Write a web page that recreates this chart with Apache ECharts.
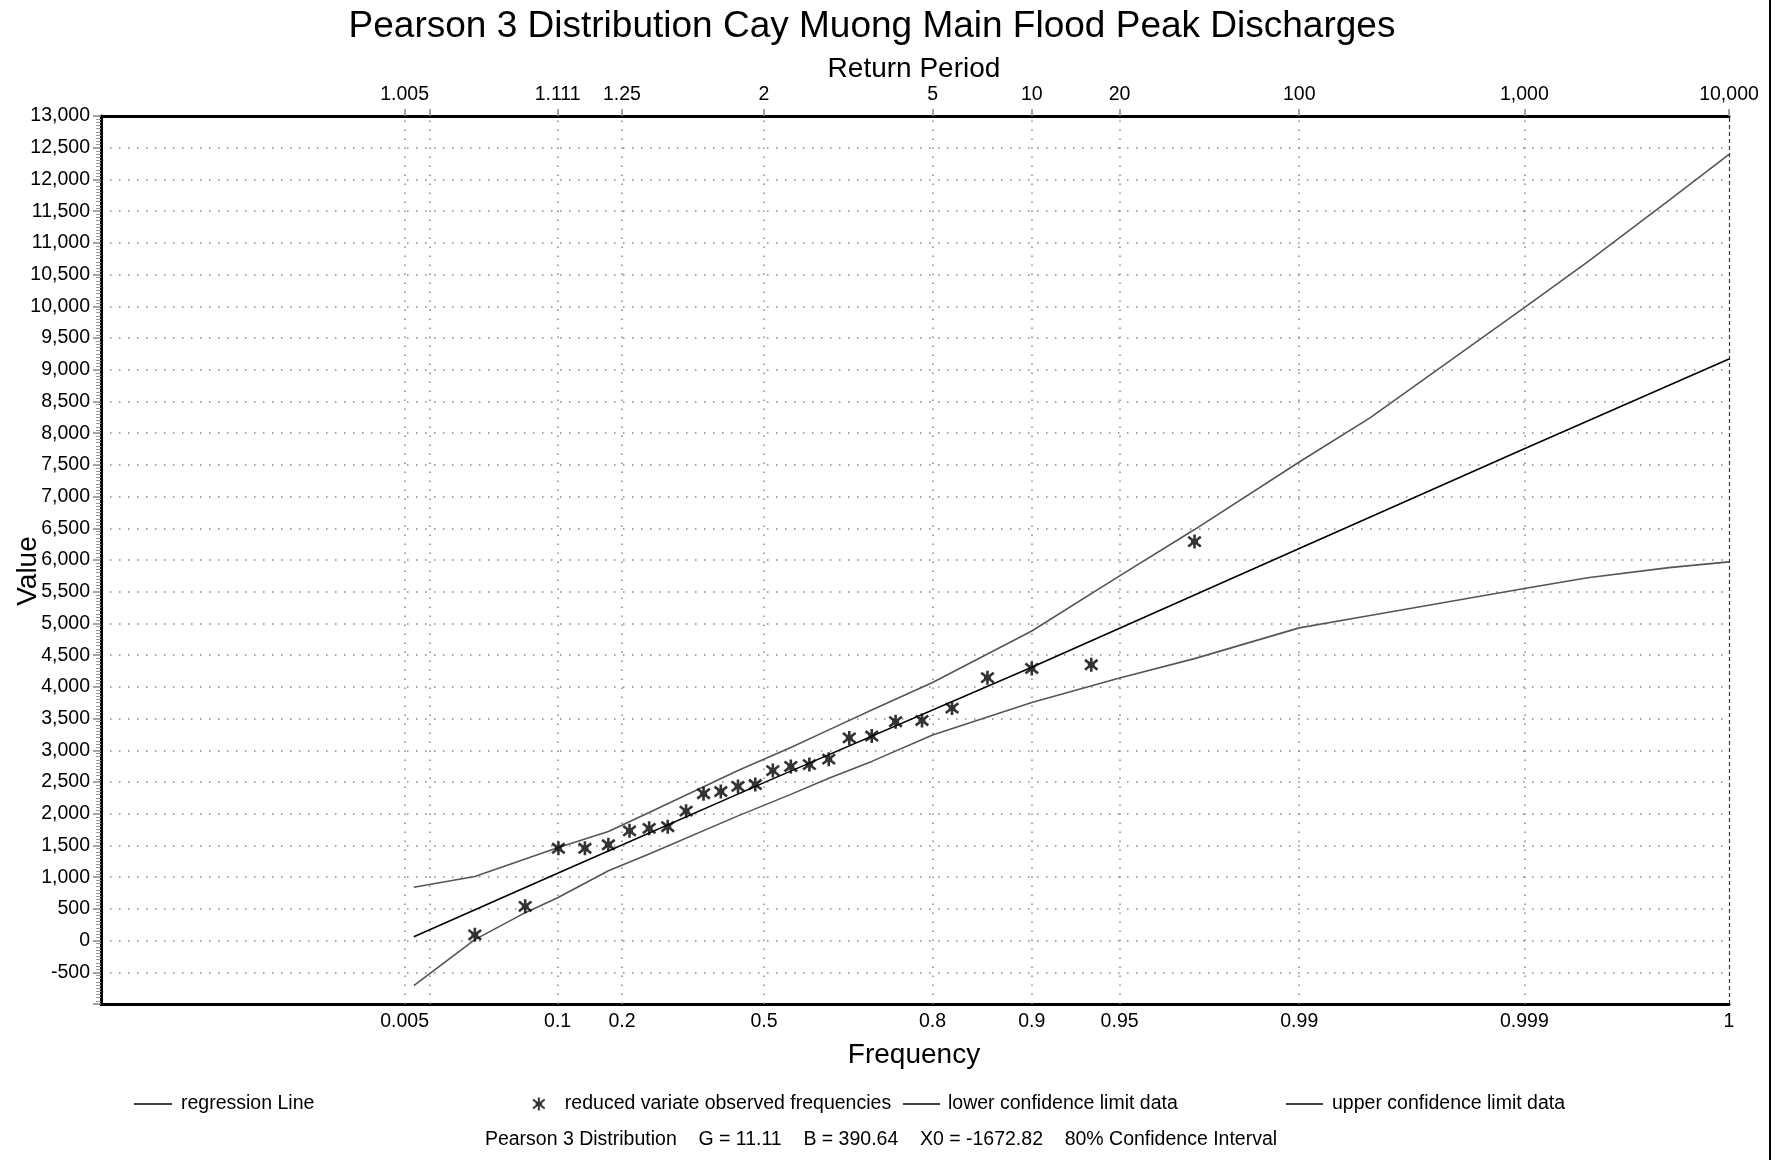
<!DOCTYPE html>
<html>
<head>
<meta charset="utf-8">
<script src="https://cdn.jsdelivr.net/npm/echarts@6.0.0/dist/echarts.min.js"></script>
<style>
html,body{margin:0;padding:0;background:#fff;}
#c{width:1776px;height:1160px;}
</style>
</head>
<body>
<div id="c"></div>
<script>
// ---- Fitted Pearson 3 parameters (shown in the footer) ----
const G = 11.11, B = 390.64, X0 = -1672.82;

// ---- Axis ticks ----
const tickFreq     = [0.005, 0.01, 0.1, 0.2, 0.5, 0.8, 0.9, 0.95, 0.99, 0.999, 0.9999];
const freqLabels   = ['0.005', '', '0.1', '0.2', '0.5', '0.8', '0.9', '0.95', '0.99', '0.999', '1'];
const returnLabels = ['1.005', '', '1.111', '1.25', '2', '5', '10', '20', '100', '1,000', '10,000'];
const yTickMin = -1000, yTickMax = 13000, yTickStep = 500;

// ---- Observed flood peaks (plotting frequency, value) ----
const obsFreq  = [0.027, 0.064, 0.101, 0.138, 0.176, 0.214, 0.252, 0.290, 0.329, 0.367, 0.405, 0.443, 0.481,
                  0.519, 0.557, 0.595, 0.633, 0.671, 0.710, 0.748, 0.786, 0.824, 0.862, 0.900, 0.937, 0.9737];
const obsValue = [90, 540, 1455, 1455, 1510, 1730, 1770, 1795, 2040, 2315, 2350, 2430, 2460,
                  2680, 2745, 2775, 2860, 3195, 3225, 3450, 3470, 3665, 4145, 4290, 4348, 6290];

// ---- Regression line ----
const regFreq  = [0.0065, 0.1, 0.5, 0.9, 0.99, 0.999, 0.9999];
const regValue = [60, 1060, 2490, 4310, 6180, 7755, 9170];

// ---- Lower confidence limit ----
const lowFreq  = [0.0065, 0.027, 0.064, 0.1, 0.176, 0.252, 0.443, 0.557, 0.633, 0.71, 0.8, 0.9, 0.95, 0.9737, 0.99, 0.995, 0.999, 0.9995, 0.9998, 0.9999];
const lowValue = [-710, 15, 440, 675, 1100, 1365, 1966, 2305, 2560, 2825, 3240, 3755, 4140, 4445, 4930, 5125, 5550, 5720, 5880, 5970];

// ---- Upper confidence limit ----
const upFreq  = [0.0065, 0.027, 0.1, 0.176, 0.252, 0.443, 0.557, 0.633, 0.71, 0.8, 0.9, 0.95, 0.9737, 0.99, 0.995, 0.999, 0.9995, 0.9998, 0.9999];
const upValue = [840, 1010, 1462, 1720, 2020, 2680, 3043, 3322, 3635, 4070, 4880, 5750, 6480, 7545, 8240, 9980, 10700, 11670, 12395];

const FONT = '"Liberation Sans", Arial, Helvetica, sans-serif';
const TITLE = 'Pearson 3 Distribution Cay Muong Main Flood Peak Discharges';
const FOOTER = 'Pearson 3 Distribution    G = 11.11    B = 390.64    X0 = -1672.82    80% Confidence Interval';

// ---- Probability-paper scale: fitted Pearson 3 quantile ----
function lnGamma(z) {
  const c = [0.99999999999980993, 676.5203681218851, -1259.1392167224028, 771.32342877765313,
    -176.61502916214059, 12.507343278686905, -0.13857109526572012, 9.9843695780195716e-6, 1.5056327351493116e-7];
  if (z < 0.5) return Math.log(Math.PI / Math.sin(Math.PI * z)) - lnGamma(1 - z);
  z -= 1;
  let x = c[0];
  for (let i = 1; i < 9; i++) x += c[i] / (z + i);
  const t = z + 7.5;
  return 0.5 * Math.log(2 * Math.PI) + (z + 0.5) * Math.log(t) - t + Math.log(x);
}
function gammaP(a, x) {
  if (x <= 0) return 0;
  const lead = Math.exp(-x + a * Math.log(x) - lnGamma(a));
  if (x < a + 1) {
    let sum = 1 / a, term = 1 / a;
    for (let n = 1; n < 1000; n++) { term *= x / (a + n); sum += term; if (Math.abs(term) < Math.abs(sum) * 1e-15) break; }
    return sum * lead;
  }
  let b = x + 1 - a, c = 1e300, d = 1 / b, h = d;
  for (let i = 1; i < 1000; i++) {
    const an = -i * (i - a); b += 2;
    d = an * d + b; if (Math.abs(d) < 1e-300) d = 1e-300;
    c = b + an / c; if (Math.abs(c) < 1e-300) c = 1e-300;
    d = 1 / d; const del = d * c; h *= del;
    if (Math.abs(del - 1) < 1e-15) break;
  }
  return 1 - lead * h;
}
function gammaInv(p, a) {
  let lo = 0, hi = a + 60 * Math.sqrt(a) + 60;
  for (let i = 0; i < 200; i++) { const m = (lo + hi) / 2; if (gammaP(a, m) < p) lo = m; else hi = m; }
  return (lo + hi) / 2;
}
function pos(F) { return X0 + B * gammaInv(F, G); }

const tickPos = tickFreq.map(pos);
const xMax = tickPos[tickPos.length - 1];
const xMin = xMax - (xMax - tickPos[0]) * (1628 / 1324.4);

function labelFor(v, labels) {
  let best = 0, bd = Infinity;
  tickPos.forEach((p, i) => { const d = Math.abs(p - v); if (d < bd) { bd = d; best = i; } });
  return labels[best];
}
const labelPos = tickPos.filter((p, i) => freqLabels[i] !== '');

const pairs = (fs, vs) => fs.map((f, i) => [pos(f), vs[i]]);

const starPath = 'path://M6,0L6,12M0.6,1.8L11.4,10.2M0.6,10.2L11.4,1.8M3,6L9,6';
const lineIcon = 'path://M0,0L38,0L38,1.6L0,1.6Z';

const chart = echarts.init(document.getElementById('c'));
const axisLabelStyle = { fontSize: 19.5, color: '#000', fontFamily: FONT };
const legendText = (pad) => ({ fontSize: 19.5, color: '#000', fontFamily: FONT, padding: [0, 0, 0, pad] });
const lineLegend = (name, left, w, pad) => ({
  data: [{ name: name, icon: lineIcon }], left: left, top: 1089, itemWidth: w, itemHeight: 14, selectedMode: false,
  symbolKeepAspect: true, itemStyle: { color: '#000', borderWidth: 0 }, textStyle: legendText(pad)
});

chart.setOption({
  animation: false,
  backgroundColor: '#fff',
  textStyle: { fontFamily: FONT },
  grid: { left: 101, right: 47, top: 116, bottom: 156, outerBoundsMode: 'none', containLabel: false },
  xAxis: [
    {
      type: 'value', position: 'bottom', min: xMin, max: xMax,
      axisLine: { show: true, onZero: false, lineStyle: { color: '#000', width: 3 } },
      axisTick: { show: false },
      axisLabel: Object.assign({ customValues: labelPos, margin: 8, formatter: v => labelFor(v, freqLabels) }, axisLabelStyle),
      splitLine: { show: false }
    },
    {
      type: 'value', position: 'top', min: xMin, max: xMax,
      axisLine: { show: true, onZero: false, lineStyle: { color: '#000', width: 3 } },
      axisTick: { show: true, customValues: tickPos, length: 7, lineStyle: { color: '#888', width: 1.5 } },
      axisLabel: Object.assign({ customValues: labelPos, margin: 11, formatter: v => labelFor(v, returnLabels) }, axisLabelStyle),
      splitLine: { show: false }
    }
  ],
  yAxis: {
    type: 'value', min: yTickMin, max: yTickMax, interval: yTickStep,
    axisLine: { show: true, onZero: false, lineStyle: { color: '#000', width: 3 } },
    axisTick: { show: true, length: 8, lineStyle: { color: '#888', width: 1.5 } },
    minorTick: { show: true, splitNumber: 10, length: 5, lineStyle: { color: '#999', width: 1 } },
    axisLabel: Object.assign({ margin: 11, formatter: v => (v === yTickMin ? '' : v.toLocaleString('en-US')) }, axisLabelStyle),
    splitLine: { show: true, lineStyle: { color: '#888', width: 1.5, type: [1.5, 7.5] } }
  },
  legend: [
    lineLegend('regression Line', 129, 38, 4),
    { data: ['reduced variate observed frequencies'], left: 527, top: 1089, itemWidth: 34, itemHeight: 13, selectedMode: false,
      textStyle: legendText(4) },
    lineLegend('lower confidence limit data', 898, 37, 3),
    lineLegend('upper confidence limit data', 1281, 37, 4)
  ],
  series: [
    {
      name: 'lower confidence limit data', type: 'line', xAxisIndex: 0, symbol: 'none', z: 2,
      itemStyle: { color: '#555' },
      lineStyle: { color: '#555', width: 1.6 }, data: pairs(lowFreq, lowValue),
      markLine: {
        silent: true, z: 1, symbol: ['none', 'none'], label: { show: false }, animation: false,
        lineStyle: { color: '#888', width: 1.5, type: [1.5, 7.5] },
        emphasis: { disabled: true },
        data: tickPos.map((x, i) => i === tickPos.length - 1
          ? { xAxis: x, lineStyle: { color: '#333', width: 1.2, type: [4, 3] } }
          : { xAxis: x })
      }
    },
    {
      name: 'upper confidence limit data', type: 'line', xAxisIndex: 0, symbol: 'none', z: 2,
      itemStyle: { color: '#555' },
      lineStyle: { color: '#555', width: 1.6 }, data: pairs(upFreq, upValue)
    },
    {
      name: 'regression Line', type: 'line', xAxisIndex: 0, symbol: 'none', z: 3,
      itemStyle: { color: '#000' },
      lineStyle: { color: '#000', width: 1.6 }, data: pairs(regFreq, regValue)
    },
    {
      name: 'reduced variate observed frequencies', type: 'scatter', xAxisIndex: 0, z: 4,
      symbol: starPath, symbolSize: 14, symbolKeepAspect: true,
      itemStyle: { color: 'rgba(0,0,0,0)', borderColor: '#000', borderWidth: 2.6 },
      data: pairs(obsFreq, obsValue)
    }
  ],
  graphic: [
    { type: 'text', x: 872, y: 27, style: { text: TITLE, fontSize: 37, fontFamily: FONT, fill: '#000', align: 'center', verticalAlign: 'middle', textAlign: 'center', textVerticalAlign: 'middle' } },
    { type: 'text', x: 914, y: 69, style: { text: 'Return Period', fontSize: 28, fontFamily: FONT, fill: '#000', align: 'center', verticalAlign: 'middle', textAlign: 'center', textVerticalAlign: 'middle' } },
    { type: 'text', x: 914, y: 1055, style: { text: 'Frequency', fontSize: 28, fontFamily: FONT, fill: '#000', align: 'center', verticalAlign: 'middle', textAlign: 'center', textVerticalAlign: 'middle' } },
    { type: 'text', x: 28, y: 571, rotation: Math.PI / 2, style: { text: 'Value', fontSize: 28, fontFamily: FONT, fill: '#000', align: 'center', verticalAlign: 'middle', textAlign: 'center', textVerticalAlign: 'middle' } },
    { type: 'text', x: 881, y: 1140, style: { text: FOOTER, fontSize: 19.5, fontFamily: FONT, fill: '#000', align: 'center', verticalAlign: 'middle', textAlign: 'center', textVerticalAlign: 'middle' } },
    { type: 'line', shape: { x1: 1770, y1: 0, x2: 1770, y2: 1160 }, style: { stroke: '#000', lineWidth: 2 } }
  ]
});
</script>
</body>
</html>
